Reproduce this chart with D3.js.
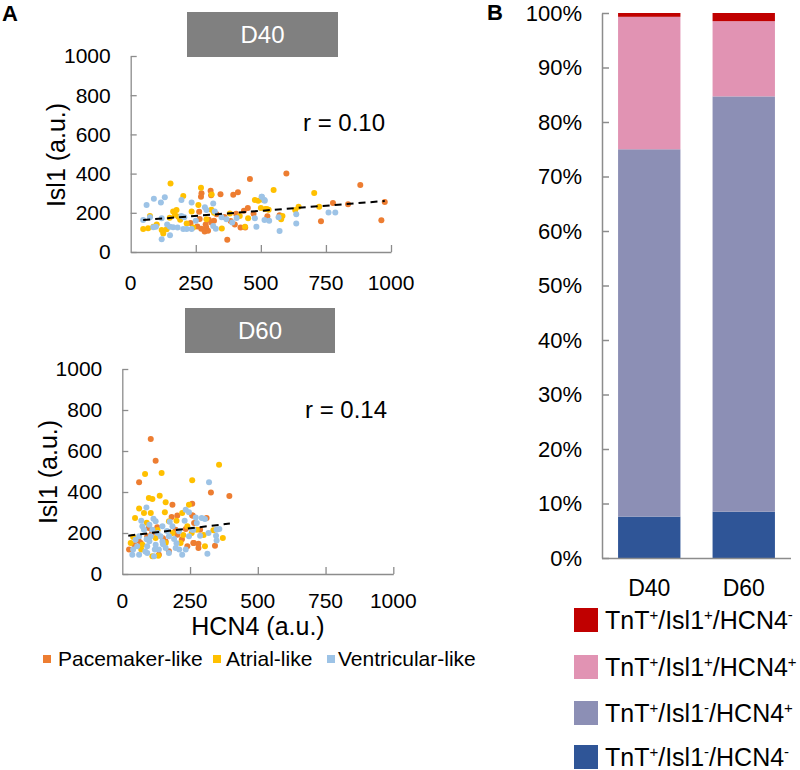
<!DOCTYPE html>
<html><head><meta charset="utf-8">
<script src="https://cdn.jsdelivr.net/npm/d3@7"></script>
<style>body{margin:0;background:#fff}svg{display:block;font-family:Arial,"Liberation Sans",sans-serif}</style>
</head><body><svg id="c" width="800" height="770"></svg>
<script>
// ---------- DATA ----------
const seriesNames = ["Pacemaker-like","Atrial-like","Ventricular-like"];
const xTicks = [0,250,500,750,1000];
const yTicks = [0,200,400,600,800,1000];

const d40Pacemaker = [[598,400],[458,372],[272,300],[307,312],[345,295],[394,292],[412,305],[270,282],[309,290],[263,205],[371,62],[230,148],[256,130],[271,118],[284,105],[297,108],[288,140],[320,160],[384,158],[400,140],[435,210],[450,225],[422,125],[440,125],[472,195],[525,183],[572,188],[731,157],[777,250],[835,244],[882,342],[963,162],[976,255],[300,165],[330,192],[290,125],[310,150],[360,178],[265,168],[405,195]];
const d40Atrial = [[153,350],[48,117],[67,121],[87,129],[119,112],[125,95],[138,116],[163,206],[176,214],[183,180],[234,206],[202,286],[311,294],[270,328],[381,197],[419,184],[439,129],[477,265],[490,262],[451,172],[291,167],[74,184],[215,146],[549,316],[705,301],[724,231],[645,231],[632,214],[578,167],[517,219],[523,219],[510,265],[583,184],[150,175],[190,165],[240,125],[320,200],[350,120],[100,140],[170,190],[260,240],[310,215],[500,225],[530,215]];
const d40Ventricular = [[61,240],[89,272],[116,252],[131,279],[195,265],[234,253],[317,248],[285,228],[48,163],[74,177],[119,172],[97,129],[87,126],[151,129],[163,126],[202,117],[215,117],[234,117],[206,177],[195,184],[119,65],[151,85],[317,133],[327,119],[349,177],[368,167],[407,173],[483,129],[477,172],[503,282],[515,262],[291,214],[323,206],[760,201],[786,201],[636,192],[636,146],[572,107],[568,177],[514,163],[532,160],[514,265],[504,282],[140,140],[180,125],[250,160],[390,150]];

const d60Pacemaker = [[105,659],[123,553],[62,447],[185,338],[258,343],[182,278],[203,285],[98,224],[129,228],[197,216],[234,220],[258,285],[25,119],[68,151],[135,94],[203,192],[264,151],[240,135],[172,111],[92,184],[160,159],[327,398],[395,380],[311,273],[260,285],[262,151],[281,148],[342,138],[281,127],[265,249],[287,216],[110,200],[150,175],[220,170],[60,165],[45,140]];
const d60Atrial = [[84,488],[145,493],[258,457],[98,371],[111,366],[138,382],[160,350],[62,320],[47,273],[80,298],[105,298],[157,301],[246,338],[172,257],[111,86],[133,89],[74,143],[31,151],[221,298],[240,233],[160,151],[215,151],[123,176],[357,533],[371,176],[305,135],[275,216],[256,200],[336,213],[90,250],[130,215],[185,200],[40,180],[70,120],[200,260],[225,190],[300,190]];
const d60Ventricular = [[89,325],[123,257],[234,314],[246,301],[74,233],[111,216],[148,233],[185,233],[62,184],[105,184],[141,184],[172,184],[209,208],[246,184],[55,135],[92,135],[123,143],[160,127],[197,127],[234,119],[37,94],[62,94],[92,102],[117,86],[135,119],[172,102],[221,94],[49,167],[148,159],[258,216],[80,216],[191,171],[271,276],[320,447],[275,249],[293,273],[305,268],[348,216],[358,220],[318,200],[346,187],[348,164],[287,187],[314,99],[262,216],[100,240],[130,200],[165,210],[90,170],[120,120],[150,145],[200,150],[70,260],[115,270],[175,255],[230,260],[40,120],[85,110],[210,120],[100,160]];

const d40Trend = [[48,163],[976,260]];
const d60Trend = [[22,187],[397,246]];
const rLabels = ["r = 0.10","r = 0.14"];
const panelTitles = ["D40","D60"];

const barCategories = ["D40","D60"];
const barSeries = ["TnT+/Isl1-/HCN4-","TnT+/Isl1-/HCN4+","TnT+/Isl1+/HCN4+","TnT+/Isl1+/HCN4-"];
const barD40 = [7.6, 67.4, 24.3, 0.7];
const barD60 = [8.5, 76.2, 13.8, 1.5];
const pctTicks = [0,10,20,30,40,50,60,70,80,90,100];

// ---------- STYLE ----------
const dotColors = ["#ED7D31","#FFC000","#9DC3E6"];
const barColors = ["#2F5597","#8C8FB5","#E193B3","#C00000"];
const axisColor = "#8c8c8c";

const svg = d3.select("#c");

// panel letters
svg.append("text").attr("x",2).attr("y",21).attr("font-size",22).attr("font-weight","bold").text("A");
svg.append("text").attr("x",487).attr("y",20).attr("font-size",22).attr("font-weight","bold").text("B");

function scatter(cfg){
  const x = d3.scaleLinear().domain([0,1000]).range(cfg.xr);
  const y = d3.scaleLinear().domain([0,1000]).range(cfg.yr);
  const g = svg.append("g");
  g.append("rect").attr("x",cfg.box[0]).attr("y",cfg.box[1]).attr("width",cfg.box[2]).attr("height",cfg.box[3]).attr("fill","#808080");
  g.append("text").attr("x",cfg.box[0]+cfg.box[2]/2).attr("y",cfg.box[1]+cfg.box[3]/2).attr("dy","0.35em")
    .attr("text-anchor","middle").attr("fill","#fff").attr("font-size",24).text(cfg.title);
  const ya = g.append("g").attr("transform",`translate(${cfg.xr[0]},0)`)
    .call(d3.axisRight(y).tickValues(yTicks).tickSize(6).tickSizeOuter(0).tickFormat(""));
  const xa = g.append("g").attr("transform",`translate(0,${cfg.yr[0]})`)
    .call(d3.axisTop(x).tickValues(xTicks.slice(1)).tickSize(7).tickSizeOuter(0).tickFormat(""));
  [ya,xa].forEach(a=>{a.selectAll("path,line").attr("stroke",axisColor).attr("stroke-width",1.3);});
  g.selectAll(".yl").data(yTicks).enter().append("text").attr("x",cfg.xr[0]-20).attr("y",d=>y(d)).attr("dy","0.35em")
    .attr("text-anchor","end").attr("font-size",21).text(d=>d);
  g.selectAll(".xl").data(xTicks).enter().append("text").attr("x",d=>x(d)).attr("y",cfg.xly).attr("dy","0.35em")
    .attr("text-anchor","middle").attr("font-size",21).text(d=>d);
  g.append("text").attr("transform",`translate(${cfg.ytx},${cfg.yty}) rotate(-90)`).attr("dy","0.35em")
    .attr("text-anchor","middle").attr("font-size",25).text("Isl1 (a.u.)");
  cfg.series.forEach((s,i)=>{
    g.append("g").selectAll("circle").data(s).enter().append("circle")
      .attr("cx",d=>x(d[0])).attr("cy",d=>y(d[1])).attr("r",3).attr("fill",dotColors[i]);
  });
  g.append("path").attr("d",d3.line().x(d=>x(d[0])).y(d=>y(d[1]))(cfg.trend))
    .attr("stroke","#000").attr("stroke-width",2).attr("stroke-dasharray","7,5").attr("fill","none");
  g.append("text").attr("x",cfg.rpos[0]).attr("y",cfg.rpos[1]).attr("dy","0.35em").attr("font-size",24).text(cfg.r);
}

scatter({xr:[130.7,391],yr:[252,56],box:[187,12,151,45],title:panelTitles[0],xly:283,ytx:56,yty:155,
  series:[d40Pacemaker,d40Atrial,d40Ventricular],trend:d40Trend,r:rLabels[0],rpos:[303,123]});
scatter({xr:[122.3,393.3],yr:[574,369],box:[185,308,150,45],title:panelTitles[1],xly:601,ytx:48,yty:472,
  series:[d60Pacemaker,d60Atrial,d60Ventricular],trend:d60Trend,r:rLabels[1],rpos:[305,410]});

svg.append("text").attr("x",258).attr("y",626).attr("dy","0.35em").attr("text-anchor","middle").attr("font-size",25).text("HCN4 (a.u.)");

// scatter legend
{
  const ly = 659;
  const sqX = [43,213,327], txX = [58,226,338];
  seriesNames.forEach((n,i)=>{
    svg.append("rect").attr("x",sqX[i]).attr("y",ly-4).attr("width",8).attr("height",8).attr("fill",dotColors[i]);
    svg.append("text").attr("x",txX[i]).attr("y",ly).attr("dy","0.35em").attr("font-size",21).text(n);
  });
}

// ---------- BAR CHART ----------
const bx = d3.scaleBand().domain(barCategories).range([602,791]).paddingInner(0.34).paddingOuter(0.17);
const by = d3.scaleLinear().domain([0,100]).range([558,13]);
const rows = barCategories.map((c,i)=>{const v=i===0?barD40:barD60; const o={cat:c}; barSeries.forEach((s,j)=>o[s]=v[j]); return o;});
const stack = d3.stack().keys(barSeries)(rows);
const bg = svg.append("g");
stack.forEach((layer,j)=>{
  bg.append("g").selectAll("rect").data(layer).enter().append("rect")
    .attr("x",d=>bx(d.data.cat)).attr("width",bx.bandwidth())
    .attr("y",d=>by(Math.min(100,d[1]))).attr("height",d=>by(d[0])-by(Math.min(100,d[1]))).attr("fill",barColors[j]);
});
const bya = bg.append("g").attr("transform","translate(602,0)")
  .call(d3.axisRight(by).tickValues(pctTicks).tickSize(7).tickSizeOuter(0).tickFormat(""));
const bxa = bg.append("g").attr("transform","translate(0,558)")
  .call(d3.axisBottom(bx).tickSize(0).tickSizeOuter(0).tickFormat(""));
bxa.select("path").attr("d","M602,0.5H791");
[bya,bxa].forEach(a=>{a.selectAll("path,line").attr("stroke",axisColor).attr("stroke-width",1.5);});
bg.selectAll(".pl").data(pctTicks).enter().append("text").attr("x",582).attr("y",d=>by(d)).attr("dy","0.35em")
  .attr("text-anchor","end").attr("font-size",22).text(d=>d+"%");
bg.selectAll(".cl").data(barCategories).enter().append("text").attr("x",d=>bx(d)+bx.bandwidth()/2).attr("y",588).attr("dy","0.35em")
  .attr("text-anchor","middle").attr("font-size",23).text(d=>d);

// bar legend (top = last series)
const legOrder = [3,2,1,0];
const legY = [620,667,713,757];
legOrder.forEach((j,k)=>{
  const cy = legY[k];
  svg.append("rect").attr("x",574).attr("y",cy-12).attr("width",24).attr("height",24).attr("fill",barColors[j]);
  const t = svg.append("text").attr("x",605).attr("y",cy+9).attr("font-size",25);
  const parts = barSeries[j].match(/[^+\-]+|[+\-]/g);
  let raised = false;
  parts.forEach(p=>{
    if(p==="+"||p==="-"){
      t.append("tspan").attr("font-size",15).attr("dy",raised?0:-9).text(p);
      raised = true;
    } else {
      t.append("tspan").attr("dy",raised?9:0).text(p);
      raised = false;
    }
  });
});
</script></body></html>
